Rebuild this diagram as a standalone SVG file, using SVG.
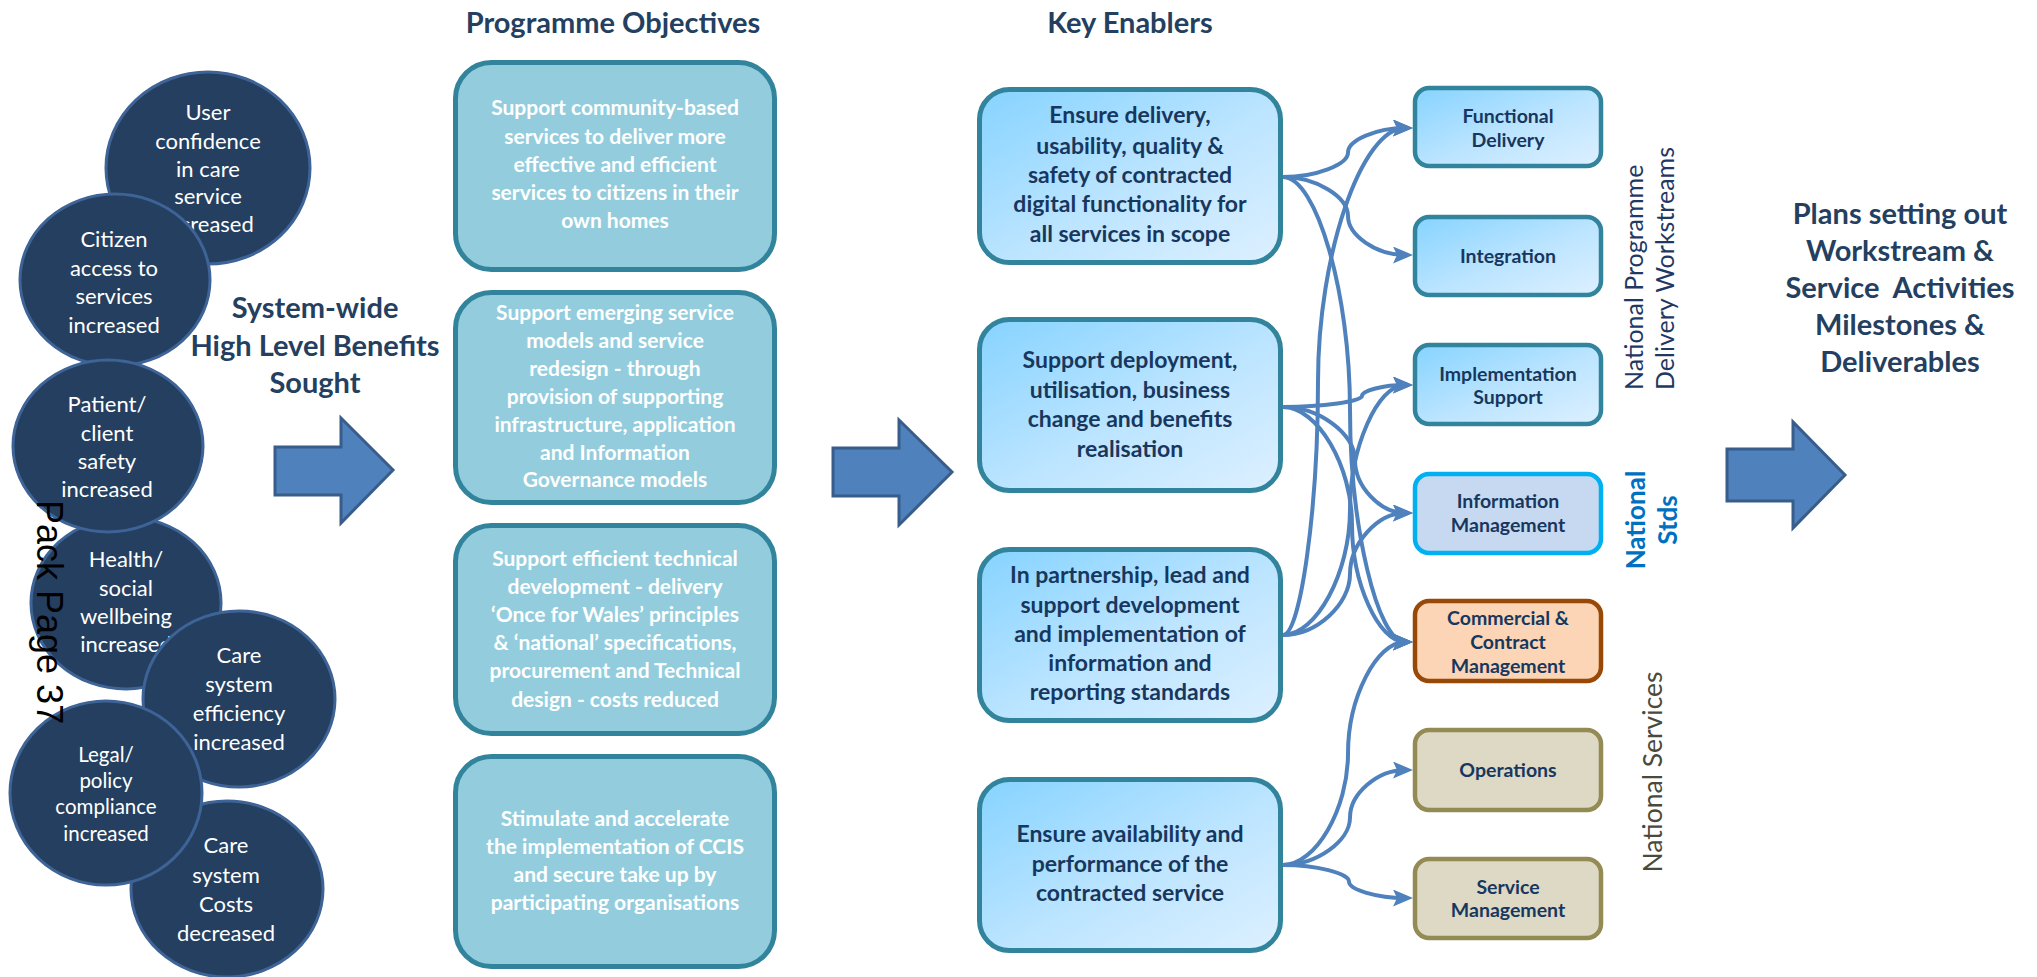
<svg xmlns="http://www.w3.org/2000/svg" width="2037" height="977" viewBox="0 0 2037 977">
<defs>
<style>
.circ{fill:#243F60;stroke:#3E6396;stroke-width:3}
.ct{font-family:Lato,'Liberation Sans',sans-serif;font-size:22px;fill:#ffffff;text-anchor:middle}
.obj{fill:#93CDDD;stroke:#31849B;stroke-width:5}
.ot{font-family:Lato,'Liberation Sans',sans-serif;font-weight:bold;font-size:21px;fill:#ffffff;text-anchor:middle}
.en{fill:url(#gb);stroke:#31849B;stroke-width:5}
.et{font-family:Lato,'Liberation Sans',sans-serif;font-weight:bold;font-size:23px;fill:#17375E;text-anchor:middle}
.rb{stroke-width:4.5}
.rt{font-family:Lato,'Liberation Sans',sans-serif;font-weight:bold;font-size:19.5px;fill:#17375E;text-anchor:middle}
.title{font-family:Lato,'Liberation Sans',sans-serif;font-weight:bold;font-size:29px;fill:#243F60;text-anchor:middle}
.vt{font-family:Lato,'Liberation Sans',sans-serif;font-size:25px}
.blk{fill:#4F81BD;stroke:#385D8A;stroke-width:3}
.conn{fill:none;stroke:#4F81BD;stroke-width:4;marker-end:url(#ah)}
</style>
<linearGradient id="gb" x1="0" y1="0" x2="1" y2="1">
<stop offset="0" stop-color="#86D3FF"/>
<stop offset="0.55" stop-color="#BDE5FF"/>
<stop offset="1" stop-color="#DDF0FF"/>
</linearGradient>
<marker id="ah" markerUnits="userSpaceOnUse" markerWidth="20" markerHeight="17" viewBox="0 0 20 17" refX="12" refY="8.5" orient="auto">
<path d="M0,0 L20,8.5 L0,17 L4,8.5 Z" fill="#4F81BD"/>
</marker>
</defs>
<rect width="2037" height="977" fill="#ffffff"/>

<g id="benefit-user-confidence">
<ellipse class="circ" cx="208" cy="168" rx="102" ry="96"/>
<text class="ct" x="208" y="120">User</text>
<text class="ct" x="208" y="149">confidence</text>
<text class="ct" x="208" y="177">in care</text>
<text class="ct" x="208" y="204">service</text>
<text class="ct" x="208" y="232">increased</text>
</g>
<g id="benefit-citizen-access">
<ellipse class="circ" cx="115" cy="280" rx="95" ry="86"/>
<text class="ct" x="114" y="247">Citizen</text>
<text class="ct" x="114" y="276">access to</text>
<text class="ct" x="114" y="304">services</text>
<text class="ct" x="114" y="333">increased</text>
</g>
<g id="benefit-health-wellbeing">
<ellipse class="circ" cx="126" cy="603" rx="95" ry="86"/>
<text class="ct" x="126" y="567">Health/</text>
<text class="ct" x="126" y="596">social</text>
<text class="ct" x="126" y="624">wellbeing</text>
<text class="ct" x="126" y="652">increased</text>
</g>
<g id="benefit-patient-safety">
<ellipse class="circ" cx="108" cy="446" rx="95" ry="86"/>
<text class="ct" x="107" y="412">Patient/</text>
<text class="ct" x="107" y="441">client</text>
<text class="ct" x="107" y="469">safety</text>
<text class="ct" x="107" y="497">increased</text>
</g>
<g id="benefit-care-efficiency">
<ellipse class="circ" cx="239" cy="699" rx="96" ry="88"/>
<text class="ct" x="239" y="663">Care</text>
<text class="ct" x="239" y="692">system</text>
<text class="ct" x="239" y="721">efficiency</text>
<text class="ct" x="239" y="750">increased</text>
</g>
<g id="benefit-care-costs">
<ellipse class="circ" cx="227" cy="889" rx="96" ry="88"/>
<text class="ct" x="226" y="853">Care</text>
<text class="ct" x="226" y="883">system</text>
<text class="ct" x="226" y="912">Costs</text>
<text class="ct" x="226" y="941">decreased</text>
</g>
<g id="benefit-legal-compliance">
<ellipse class="circ" cx="106" cy="793" rx="96" ry="92"/>
<text class="ct" x="106" y="762" style="font-size:20.5px">Legal/</text>
<text class="ct" x="106" y="788" style="font-size:20.5px">policy</text>
<text class="ct" x="106" y="814" style="font-size:20.5px">compliance</text>
<text class="ct" x="106" y="841" style="font-size:20.5px">increased</text>
</g>

<g id="page-label">
<text x="37" y="500" transform="rotate(90 37 500)" font-family="'Liberation Sans',Arial,sans-serif" font-size="36" fill="#000000">Pack Page 37</text>
</g>

<g id="label-benefits">
<text class="title" x="315" y="318">System-wide</text>
<text class="title" x="315" y="356">High Level Benefits</text>
<text class="title" x="315" y="393">Sought</text>
</g>
<g id="arrow-1"><path class="blk" d="M275,447 L341,447 L341,418 L393,470 L341,523 L341,495 L275,495 Z"/></g>

<g id="title-objectives"><text class="title" x="613" y="33">Programme Objectives</text></g>
<g id="objective-1">
<rect class="obj" x="455.5" y="62.5" width="319" height="207" rx="36"/>
<text class="ot" x="615" y="115">Support community-based</text>
<text class="ot" x="615" y="144">services to deliver more</text>
<text class="ot" x="615" y="172">effective and efficient</text>
<text class="ot" x="615" y="200">services to citizens in their</text>
<text class="ot" x="615" y="228">own homes</text>
</g>
<g id="objective-2">
<rect class="obj" x="455.5" y="292.5" width="319" height="210" rx="36"/>
<text class="ot" x="615" y="320">Support emerging service</text>
<text class="ot" x="615" y="348">models and service</text>
<text class="ot" x="615" y="376">redesign - through</text>
<text class="ot" x="615" y="404">provision of supporting</text>
<text class="ot" x="615" y="432">infrastructure, application</text>
<text class="ot" x="615" y="460">and Information</text>
<text class="ot" x="615" y="487">Governance models</text>
</g>
<g id="objective-3">
<rect class="obj" x="455.5" y="525.5" width="319" height="208" rx="36"/>
<text class="ot" x="615" y="566">Support efficient technical</text>
<text class="ot" x="615" y="594">development - delivery</text>
<text class="ot" x="615" y="622">‘Once for Wales’ principles</text>
<text class="ot" x="615" y="650">&amp; ‘national’ specifications,</text>
<text class="ot" x="615" y="678">procurement and Technical</text>
<text class="ot" x="615" y="707">design - costs reduced</text>
</g>
<g id="objective-4">
<rect class="obj" x="455.5" y="756.5" width="319" height="210" rx="36"/>
<text class="ot" x="615" y="826">Stimulate and accelerate</text>
<text class="ot" x="615" y="854">the implementation of CCIS</text>
<text class="ot" x="615" y="882">and secure take up by</text>
<text class="ot" x="615" y="910">participating organisations</text>
</g>

<g id="arrow-2"><path class="blk" d="M833,448 L899,448 L899,420 L952,472 L899,525 L899,496 L833,496 Z"/></g>

<g id="title-enablers"><text class="title" x="1130" y="33">Key Enablers</text></g>
<g id="enabler-1">
<rect class="en" x="979.5" y="89.5" width="301" height="173" rx="30"/>
<text class="et" x="1130" y="123">Ensure delivery,</text>
<text class="et" x="1130" y="154">usability, quality &amp;</text>
<text class="et" x="1130" y="183">safety of contracted</text>
<text class="et" x="1130" y="212">digital functionality for</text>
<text class="et" x="1130" y="242">all services in scope</text>
</g>
<g id="enabler-2">
<rect class="en" x="979.5" y="319.5" width="301" height="171" rx="30"/>
<text class="et" x="1130" y="368">Support deployment,</text>
<text class="et" x="1130" y="398">utilisation, business</text>
<text class="et" x="1130" y="427">change and benefits</text>
<text class="et" x="1130" y="457">realisation</text>
</g>
<g id="enabler-3">
<rect class="en" x="979.5" y="549.5" width="301" height="171" rx="30"/>
<text class="et" x="1130" y="583">In partnership, lead and</text>
<text class="et" x="1130" y="613">support development</text>
<text class="et" x="1130" y="642">and implementation of</text>
<text class="et" x="1130" y="671">information and</text>
<text class="et" x="1130" y="700">reporting standards</text>
</g>
<g id="enabler-4">
<rect class="en" x="979.5" y="779.5" width="301" height="171" rx="30"/>
<text class="et" x="1130" y="842">Ensure availability and</text>
<text class="et" x="1130" y="872">performance of the</text>
<text class="et" x="1130" y="901">contracted service</text>
</g>

<g id="ws-functional-delivery">
<rect class="rb" x="1415" y="88" width="186" height="78" rx="14" fill="url(#gb)" stroke="#31849B"/>
<text class="rt" x="1508" y="123">Functional</text>
<text class="rt" x="1508" y="147">Delivery</text>
</g>
<g id="ws-integration">
<rect class="rb" x="1415" y="217" width="186" height="78" rx="14" fill="url(#gb)" stroke="#31849B"/>
<text class="rt" x="1508" y="263">Integration</text>
</g>
<g id="ws-implementation-support">
<rect class="rb" x="1415" y="345" width="186" height="79" rx="14" fill="url(#gb)" stroke="#31849B"/>
<text class="rt" x="1508" y="381">Implementation</text>
<text class="rt" x="1508" y="404">Support</text>
</g>
<g id="ws-information-management">
<rect class="rb" x="1415" y="474" width="186" height="79" rx="14" fill="#C6D9F1" stroke="#00B0F0"/>
<text class="rt" x="1508" y="508">Information</text>
<text class="rt" x="1508" y="532">Management</text>
</g>
<g id="ws-commercial-contract">
<rect class="rb" x="1415" y="601" width="186" height="80" rx="14" fill="#FBD5B5" stroke="#984807"/>
<text class="rt" x="1508" y="625">Commercial &amp;</text>
<text class="rt" x="1508" y="649">Contract</text>
<text class="rt" x="1508" y="673">Management</text>
</g>
<g id="ws-operations">
<rect class="rb" x="1415" y="730" width="186" height="80" rx="14" fill="#DDD9C4" stroke="#948A54"/>
<text class="rt" x="1508" y="777">Operations</text>
</g>
<g id="ws-service-management">
<rect class="rb" x="1415" y="859" width="186" height="79" rx="14" fill="#DDD9C4" stroke="#948A54"/>
<text class="rt" x="1508" y="894">Service</text>
<text class="rt" x="1508" y="917">Management</text>
</g>

<g id="connectors">
<path class="conn" d="M1283,177 C1315.5,177 1348,164.75 1348,152.5 C1348,140.25 1376.5,128 1405,128"/>
<path class="conn" d="M1283,177 C1315.5,177 1348,196.5 1348,216 C1348,235.5 1376.5,255 1405,255"/>
<path class="conn" d="M1283,177 C1316.5,177 1350,293.25 1350,409.5 C1350,525.75 1377.5,642 1405,642"/>
<path class="conn" d="M1283,407 C1322.5,407 1362,401.5 1362,396 C1362,390.5 1383.5,385 1405,385"/>
<path class="conn" d="M1283,407 C1319,407 1355,433.5 1355,460 C1355,486.5 1380,513 1405,513"/>
<path class="conn" d="M1283,407 C1317.5,407 1352,465.75 1352,524.5 C1352,583.25 1378.5,642 1405,642"/>
<path class="conn" d="M1283,635 C1300.5,635 1318,508.25 1318,381.5 C1318,254.75 1361.5,128 1405,128"/>
<path class="conn" d="M1283,635 C1316.5,635 1350,572.5 1350,510 C1350,447.5 1377.5,385 1405,385"/>
<path class="conn" d="M1283,635 C1316.5,635 1350,604.5 1350,574 C1350,543.5 1377.5,513 1405,513"/>
<path class="conn" d="M1283,865 C1315.5,865 1348,809.25 1348,753.5 C1348,697.75 1376.5,642 1405,642"/>
<path class="conn" d="M1283,865 C1316.5,865 1350,841.25 1350,817.5 C1350,793.75 1377.5,770 1405,770"/>
<path class="conn" d="M1283,865 C1316,865 1349,873.25 1349,881.5 C1349,889.75 1377,898 1405,898"/>
</g>

<g id="label-workstreams">
<text class="vt" fill="#1F3864" transform="translate(1643 390) rotate(-90)">National Programme</text>
<text class="vt" fill="#1F3864" transform="translate(1674 390) rotate(-90)">Delivery Workstreams</text>
</g>
<g id="label-national-stds">
<text class="vt" fill="#0070C0" font-weight="bold" text-anchor="middle" style="font-size:26px" transform="translate(1645 520) rotate(-90)">National</text>
<text class="vt" fill="#0070C0" font-weight="bold" text-anchor="middle" style="font-size:26px" transform="translate(1677 520) rotate(-90)">Stds</text>
</g>
<g id="label-national-services">
<text class="vt" fill="#4A4A3C" text-anchor="middle" style="font-size:26.5px" transform="translate(1662 772) rotate(-90)">National Services</text>
</g>

<g id="arrow-3"><path class="blk" d="M1727,449 L1793,449 L1793,422 L1845,475 L1793,528 L1793,501 L1727,501 Z"/></g>
<g id="label-plans">
<text class="title" x="1900" y="224">Plans setting out</text>
<text class="title" x="1900" y="261">Workstream &amp;</text>
<text class="title" x="1900" y="298" xml:space="preserve">Service  Activities</text>
<text class="title" x="1900" y="335">Milestones &amp;</text>
<text class="title" x="1900" y="372">Deliverables</text>
</g>
</svg>
